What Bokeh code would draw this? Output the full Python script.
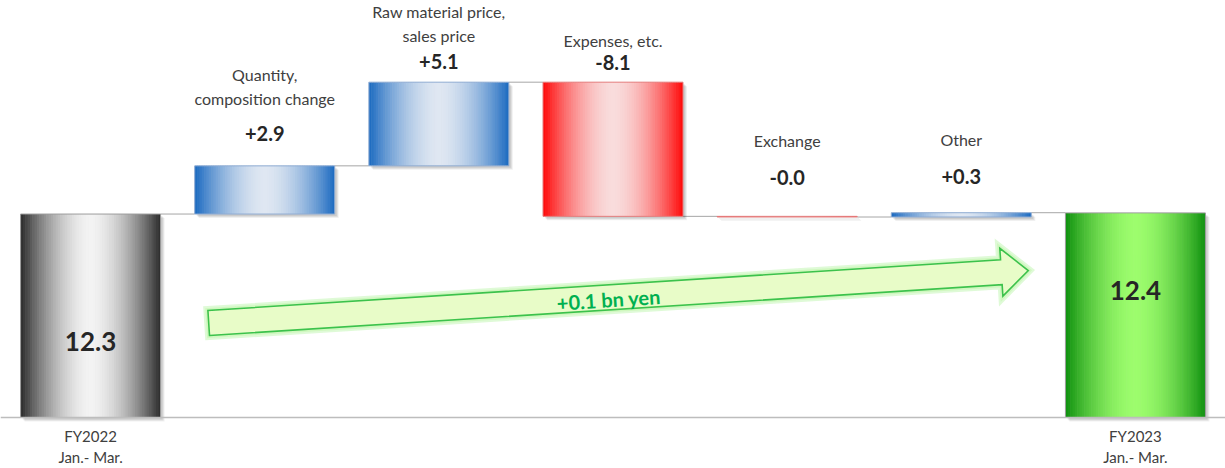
import numpy as np
from bokeh.plotting import figure
from bokeh.models import Range1d, Span, ColumnDataSource
from bokeh.core.properties import value
from bokeh.embed import file_html
from bokeh.resources import INLINE

# ---------------- data ----------------
labels = ["FY2022\nJan.- Mar.", "Quantity,\ncomposition change",
          "Raw material price,\nsales price", "Expenses, etc.",
          "Exchange", "Other", "FY2023\nJan.- Mar."]
values = [12.33, 2.92, 5.07, -8.13, -0.04, 0.26, 12.40]
is_total = [True, False, False, False, False, False, True]
change_text = "+0.1 bn yen"

# ---------------- layout ----------------
W, H = 1225, 468
X0, X1 = -0.5172, 6.5172
Y0, Y1 = -3.09, 25.27
SX = W / (X1 - X0)          # px per x unit
SY = H / (Y1 - Y0)          # px per y unit
BW = 140 / SX               # bar width in data units
FONT = "Lato"

def px2x(px):
    return X0 + px / SX

def py2y(py):
    return Y1 - py / SY

# pixel offsets for labels (layout, not data)
val_dy = [127, -32, -21, -20, -39, -36, 78]      # value label relative to bar top
name_dy = [0, -47, -38, -22, -37, -37, 0]        # name label relative to value label

pal = {"gray": ("#2a2a2a", "#f3f3f3"), "blue": ("#1a69c0", "#dfe7f2"),
       "red": ("#ff0707", "#f9dcdc"), "green": ("#0e900e", "#9dfd6d")}
outline = {"gray": "#9c9c9c", "blue": "#8fabd2", "red": "#e37c7c", "green": "#9c9c9c"}


def hex2rgb(c):
    return np.array([int(c[i:i + 2], 16) for i in (1, 3, 5)], dtype=float)


def mix(edge, center, m):
    r = hex2rgb(center) * (1 - m) + hex2rgb(edge) * m
    return "#%02x%02x%02x" % tuple(int(round(v)) for v in r)


# ---------------- waterfall geometry ----------------
n = len(values)
xs = np.arange(n, dtype=float)
bottoms, tops, ends, kinds = [], [], [], []
level = 0.0
for i, (v, tot) in enumerate(zip(values, is_total)):
    if tot:
        b, t = 0.0, v
        level = v
        kinds.append("gray" if i == 0 else "green")
    else:
        start = level
        level = level + v
        b, t = min(start, level), max(start, level)
        kinds.append("blue" if v >= 0 else "red")
    bottoms.append(b)
    tops.append(t)
    ends.append(level)

p = figure(width=W, height=H, x_range=Range1d(X0, X1), y_range=Range1d(Y0, Y1),
           output_backend="svg", toolbar_location=None,
           x_axis_location=None, y_axis_location=None, min_border=0)
p.outline_line_color = None
p.grid.visible = False
p.background_fill_color = "white"
p.border_fill_color = "white"

# baseline
p.add_layout(Span(location=0, dimension="width", line_color="#bdbdbd", line_width=1.5))

# connectors
cx0 = [xs[i] + BW / 2 for i in range(n - 1)]
cx1 = [xs[i + 1] - BW / 2 for i in range(n - 1)]
cy = [ends[i] for i in range(n - 1)]
p.segment(x0=cx0, y0=cy, x1=cx1, y1=cy, line_color="#a6a6a6", line_width=1)

# shadows
for k, (d, a) in enumerate([(4, 0.06), (3, 0.08), (2, 0.08)]):
    p.quad(left=[x - BW / 2 + d / SX for x in xs], right=[x + BW / 2 + d / SX for x in xs],
           bottom=[b - d / SY for b in bottoms], top=[t - d / SY for t in tops],
           fill_color="black", fill_alpha=a, line_color=None)

# gradient bars built from strips
NS = 60
L, R, B, T, C = [], [], [], [], []
for i in range(n):
    edge, center = pal[kinds[i]]
    left = xs[i] - BW / 2
    for k in range(NS):
        tt = (k + 0.5) / NS
        s = abs(2 * tt - 1)
        m = s ** 1.7
        L.append(left + k * BW / NS)
        R.append(left + (k + 1) * BW / NS + (0.6 / SX if k < NS - 1 else 0))
        B.append(bottoms[i])
        T.append(tops[i])
        C.append(mix(edge, center, m))
p.quad(source=ColumnDataSource(dict(left=L, right=R, bottom=B, top=T, color=C)),
       left="left", right="right", bottom="bottom", top="top",
       fill_color="color", line_color=None)

# outlines
p.quad(left=[x - BW / 2 for x in xs], right=[x + BW / 2 for x in xs],
       bottom=bottoms, top=tops, fill_color=None,
       line_color=[outline[k] for k in kinds], line_width=1)

# ---------------- change arrow ----------------
tail = np.array([(xs[1] - BW / 2 - X0) * SX + 14, 322.5])
tip = np.array([(xs[n - 2] + BW / 2 - X0) * SX - 3, 270.0])
d = tip - tail
u = d / np.linalg.norm(d)
nrm = np.array([-u[1], u[0]])
hs, hh, hl = 12.5, 24.0, 27.0
base = tip - u * hl
pts = [tail + nrm * hs, base + nrm * hs, base + nrm * hh, tip,
       base - nrm * hh, base - nrm * hs, tail - nrm * hs]
ax = [px2x(q[0]) for q in pts]
ay = [py2y(q[1]) for q in pts]
p.patch(ax, ay, fill_color=None, line_color="#b9f3a6", line_width=9, line_alpha=0.45, line_join="miter")
p.patch(ax, ay, fill_color=None, line_color="#c9f7b5", line_width=5, line_alpha=0.7, line_join="miter")
p.patch(ax, ay, fill_color="#e8fcc8", line_color="#3cc24c", line_width=1.6, line_join="miter")

mid = tail + d * 0.488 + nrm * 2
ang = float(np.arctan2(-d[1], d[0]))
p.text(x=[px2x(mid[0])], y=[py2y(mid[1])], text=[change_text], angle=ang,
       text_font=value(FONT), text_font_style="bold", text_font_size="20px",
       text_color="#00b050", text_align="center", text_baseline="middle")

# ---------------- labels ----------------
val_txt, val_x, val_y, val_off, val_size = [], [], [], [], []
name_txt, name_x, name_y, name_off = [], [], [], []
bot_txt, bot_x = [], []
for i in range(n):
    if is_total[i]:
        val_txt.append(f"{values[i]:.1f}")
        val_size.append("26px")
        bot_txt.append(labels[i])
        bot_x.append(xs[i])
    else:
        val_txt.append(f"{values[i]:+.1f}")
        val_size.append("20px")
        name_txt.append(labels[i])
        name_x.append(xs[i])
        name_y.append(tops[i])
        name_off.append(val_dy[i] + name_dy[i])
    val_x.append(xs[i])
    val_y.append(tops[i])
    val_off.append(val_dy[i])

p.text(source=ColumnDataSource(dict(x=val_x, y=val_y, t=val_txt, o=val_off, s=val_size)),
       x="x", y="y", text="t", y_offset="o", text_font_size="s",
       text_font=value(FONT), text_font_style="bold", text_color="#262626",
       text_align="center", text_baseline="middle")
p.text(source=ColumnDataSource(dict(x=name_x, y=name_y, t=name_txt, o=name_off)),
       x="x", y="y", text="t", y_offset="o",
       text_font=value(FONT), text_font_size="16px", text_color="#404040",
       text_align="center", text_baseline="middle", text_line_height=1.25)
p.text(x=bot_x, y=[0] * len(bot_x), text=bot_txt, y_offset=29,
       text_font=value(FONT), text_font_size="15px", text_color="#404040",
       text_align="center", text_baseline="middle", text_line_height=1.2)

open("out.html", "w").write(file_html(p, INLINE))
